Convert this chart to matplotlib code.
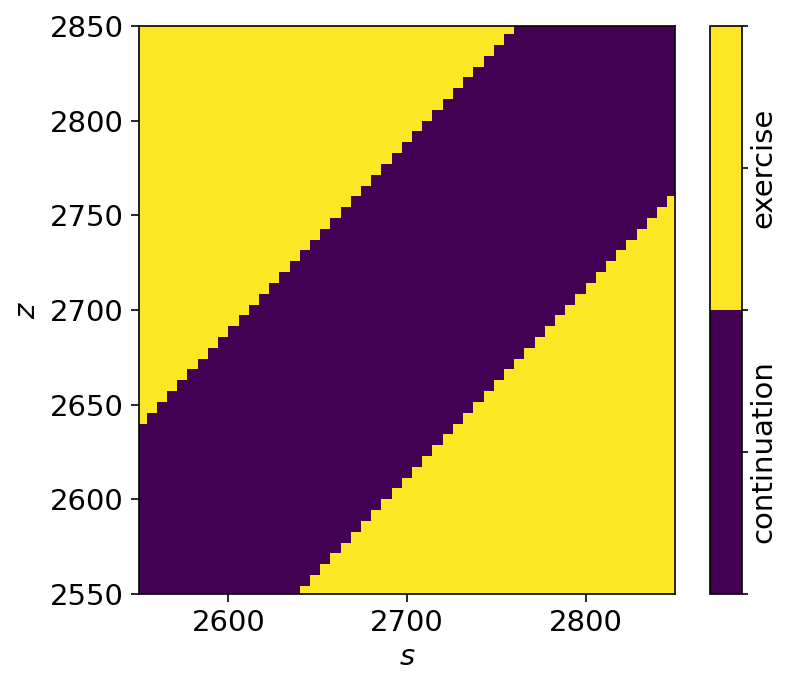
import numpy as np
import matplotlib.pyplot as plt

# grid of cell centres (s and z share the same grid)
s_grid = np.linspace(2500, 2900, 71)
z_grid = np.linspace(2500, 2900, 71)

# for each z row: first and last s column index where we keep going (continuation)
cont_first = [0, 0, 0, 0, 0, 0, 0, 0, 0, 0, 0, 0, 0, 0, 0, 0,
              1, 2, 3, 4, 5, 6, 7, 8, 9, 10, 11, 12, 13, 14, 15, 16, 17, 18, 19, 20,
              21, 22, 23, 24, 25, 26, 27, 28, 29, 30, 31, 32, 33, 34, 35, 36, 37, 38,
              39, 40, 41, 42, 43, 44, 45, 46, 47, 48, 49, 50, 51, 52, 53, 54, 55]
cont_last = [15, 16, 17, 18, 19, 20, 21, 22, 23, 24, 25, 26, 27, 28, 29, 30, 31, 32,
             33, 34, 35, 36, 37, 38, 39, 40, 41, 42, 43, 44, 45, 46, 47, 48, 49, 50,
             51, 52, 53, 54, 55, 56, 57, 58, 59, 60, 61, 62, 63, 64, 65, 66, 67, 68,
             69, 70, 70, 70, 70, 70, 70, 70, 70, 70, 70, 70, 70, 70, 70, 70, 70]

labels = ["continuation", "exercise"]

# 1 = exercise, 0 = continuation
decision = np.ones((len(z_grid), len(s_grid)))
for row in range(len(z_grid)):
    decision[row, cont_first[row]:cont_last[row] + 1] = 0

fig = plt.figure(figsize=(7.92, 6.87), dpi=100)
ax = fig.add_axes([0.1755, 0.1354, 0.6767, 0.8268])
cax = fig.add_axes([0.8965, 0.1354, 0.0404, 0.8268])

cmap = plt.get_cmap("viridis", 2)
mesh = ax.pcolormesh(s_grid, z_grid, decision, cmap=cmap, vmin=0, vmax=1,
                     shading="nearest", antialiased=True)
ax.set_xlim(2550, 2850)
ax.set_ylim(2550, 2850)
ax.set_xticks([2600, 2700, 2800])
ax.set_yticks(np.arange(2550, 2851, 50))
ax.tick_params(labelsize=21, length=6, width=1.2, pad=5)
ax.set_xlabel("$s$", fontsize=21, labelpad=4)
ax.set_ylabel("$z$", fontsize=21, labelpad=6)
for sp in ax.spines.values():
    sp.set_linewidth(1.2)

cb = fig.colorbar(mesh, cax=cax)
cb.set_ticks([0, 0.25, 0.5, 0.75, 1])
cb.set_ticklabels(["", labels[0], "", labels[1], ""])
cb.ax.tick_params(labelsize=21, length=4, width=1.2, pad=1)
cb.outline.set_linewidth(1.2)
for t in cb.ax.get_yticklabels():
    t.set_rotation(90)
    t.set_va("center")

fig.savefig("out.png", dpi=100)
